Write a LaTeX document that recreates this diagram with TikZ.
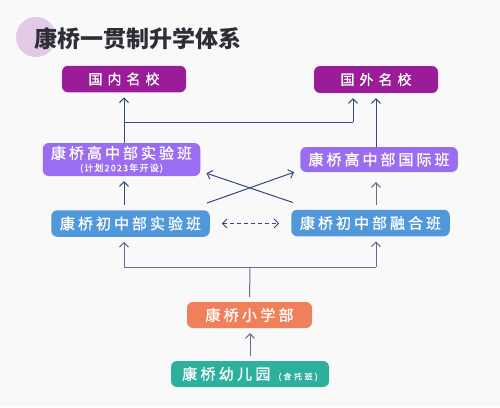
\documentclass[tikz,border=0pt]{standalone}
\usepackage{fontspec}
\usetikzlibrary{arrows.meta}
\newfontfamily\cjk{Noto Sans CJK SC}
\newfontfamily\cjkm[FakeBold=1]{Noto Sans CJK SC}
\makeatletter
\newcommand\spaced[2]{\def\sp@gap{#1}\sp@first#2\@nil}
\def\sp@first#1{#1\sp@rest}
\def\sp@rest#1{\ifx\@nil#1\else\hskip\sp@gap\relax#1\expandafter\sp@rest\fi}
\makeatother
\newcommand\bigfnt{\cjkm\fontsize{15}{17}\selectfont}
\newcommand\unifnt{\cjkm\fontsize{14}{16}\selectfont}
\newcommand\smalltxt[3]{{\cjkm\fontsize{#1}{#1}\selectfont\spaced{#2}{#3}}}
\definecolor{bgc}{HTML}{F9F9FA}
\definecolor{titlec}{HTML}{2E2E38}
\definecolor{circc}{HTML}{E3C9E6}
\definecolor{uniC}{HTML}{9A1C98}
\definecolor{highC}{HTML}{9B6DF0}
\definecolor{midC}{HTML}{5098DA}
\definecolor{primC}{HTML}{F0805B}
\definecolor{kindC}{HTML}{2DB09E}
\definecolor{lineC}{HTML}{34497A}
\definecolor{lineG}{HTML}{5F6E8C}
\tikzset{
  box/.style={rounded corners=6pt, text=white, inner sep=0pt, align=center},
  bigtxt/.style={font=\bigfnt},
  unibox/.style={box, fill=uniC, minimum width=124pt, minimum height=26.5pt, font=\unifnt},
  highbox/.style={box, bigtxt, fill=highC, minimum width=157.5pt},
  midbox/.style={box, bigtxt, fill=midC, minimum width=158.5pt, minimum height=26.5pt},
  arr/.style={draw=lineC, line width=1pt, -{Straight Barb[length=4.5pt,width=9pt,line width=1pt]}},
  ln/.style={draw=lineC, line width=1pt},
}
\begin{document}
\begin{tikzpicture}[x=1pt,y=-1pt]
\path[fill=bgc] (0,0) rectangle (500,407);
\useasboundingbox (0,0) rectangle (500,407);
% title
\fill[circc] (36,37) circle (20);
\node[anchor=west, inner sep=0pt, text=titlec, font=\cjk\bfseries\fontsize{23}{26}\selectfont] (title) at (34,38.5) {康桥一贯制升学体系};
% nodes
\node[unibox] (inner) at (124,79) {\spaced{5pt}{国内名校}};
\node[unibox, minimum height=27pt] (outer) at (376,79.5) {\spaced{5pt}{国外名校}};
\node[highbox, minimum height=33pt] (hsexp) at (121.5,159.5) {\spaced{3pt}{康桥高中部实验班}\\[-4.5pt]\smalltxt{9}{1.2pt}{(计划2023年开设)}};
\node[highbox, minimum height=25pt] (hsint) at (379,159.5) {\spaced{3pt}{康桥高中部国际班}};
\node[midbox] (msexp) at (130.5,223.5) {\spaced{3pt}{康桥初中部实验班}};
\node[midbox] (msfus) at (370.5,223) {\spaced{3pt}{康桥初中部融合班}};
\node[box, bigtxt, fill=primC, minimum width=125pt, minimum height=26pt] (prim) at (249.5,315) {\spaced{3.3pt}{康桥小学部}};
\node[box, bigtxt, fill=kindC, minimum width=158pt, minimum height=26pt] (kind) at (250,374) {\spaced{3.3pt}{康桥幼儿园}\hspace{8pt}\smalltxt{8}{2.5pt}{(含托班)}};
% junction coordinates
\coordinate (j1) at (124,122);
\coordinate (j2) at (353,122);
\coordinate (j3) at (250,267);
\coordinate (j4) at (124,267);
\coordinate (j5) at (376,267);
% connectors
\draw[arr, shorten >=5pt] (inner.south |- hsexp.north) -- (inner.south);
\draw[ln] (j1) -- (j2);
\draw[arr, shorten >=5pt] (j2) -- (j2 |- outer.south);
\draw[arr, shorten >=5pt] (outer.south |- hsint.north) -- (outer.south);
\draw[arr] ([shift={(-3,-7)}]msexp.north east) -- ([shift={(-6,0)}]hsint.south west);
\draw[arr] ([shift={(2,-7)}]msfus.north west) -- ([shift={(6,-3)}]hsexp.south east);
\draw[arr, shorten >=5pt, shorten <=5pt] (inner.south |- msexp.north) -- (inner.south |- hsexp.south);
\draw[arr, draw=lineG, shorten >=10pt, shorten <=5pt] (outer.south |- msfus.north) -- (outer.south |- hsint.south);
\draw[draw=lineC, line width=0.9pt, dashed, dash pattern=on 4pt off 3pt, shorten >=12pt, shorten <=12pt,
   {Straight Barb[length=4.5pt,width=9pt,line width=0.9pt]}-{Straight Barb[length=4.5pt,width=9pt,line width=0.9pt]}] (msexp.east) -- (msexp.east -| msfus.west);
\draw[ln, draw=lineG, shorten <=5pt] (prim.north) -- (j3);
\draw[ln, draw=lineG] (j4) -- (j5);
\draw[arr, draw=lineG, shorten >=5pt] (j4) -- (j4 |- msexp.south);
\draw[arr, draw=lineG, shorten >=5pt] (j5) -- (j5 |- msfus.south);
\draw[arr, draw=lineG, shorten >=5pt, shorten <=5pt] (kind.north) -- (kind.north |- prim.south);
\end{tikzpicture}
\end{document}
